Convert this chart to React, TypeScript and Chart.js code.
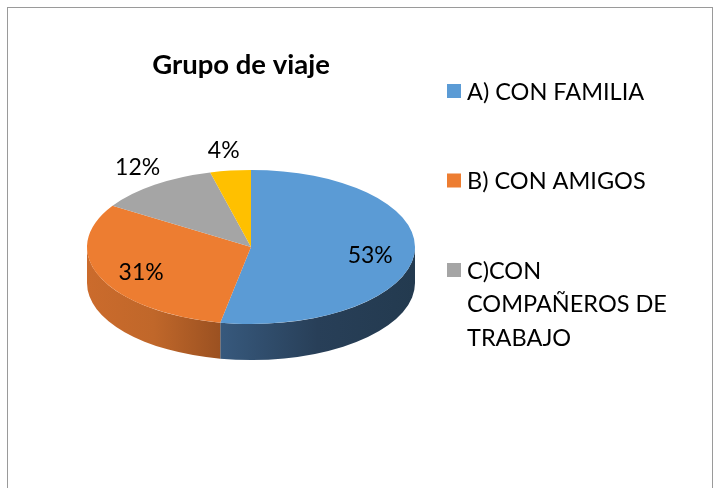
import React, { useEffect, useRef } from "react";
import { Chart, registerables } from "chart.js";

Chart.register(...registerables);

// ---- data ----
const categories = ["A) CON FAMILIA", "B) CON AMIGOS", "C)CON COMPAÑEROS DE TRABAJO", "D) OTROS"];
const values = [53, 31, 12, 4];
const legendVisible = [true, true, true, false];
const chartTitle = "Grupo de viaje";

// ---- style ----
const topColors = ["#5B9BD5", "#ED7D31", "#A5A5A5", "#FFC000"];
const sideStops: string[][] = [
  ["#37597D", "#283F58", "#233A4F"],
  ["#CB6B2C", "#C0672A", "#9B5121"],
  ["#8A8A8A", "#7A7A7A", "#5E5E5E"],
  ["#C79600", "#B38600", "#8A6700"],
];
const TILT = 0.4695;
const DEPTH_RATIO = 0.22;
const FONT = "Lato, 'Open Sans', sans-serif";

const W = 717;
const H = 488;

function wrapText(ctx: CanvasRenderingContext2D, text: string, maxW: number): string[] {
  const words = text.split(" ");
  const lines: string[] = [];
  let cur = "";
  for (const w of words) {
    const t = cur ? cur + " " + w : w;
    if (ctx.measureText(t).width > maxW && cur) {
      lines.push(cur);
      cur = w;
    } else cur = t;
  }
  if (cur) lines.push(cur);
  return lines;
}

const pie3d = {
  id: "pie3d",
  beforeDatasetsDraw(chart: any) {
    const ctx: CanvasRenderingContext2D = chart.ctx;
    const arcs: any[] = chart.getDatasetMeta(0).data;
    if (!arcs.length) return false;
    const cx = arcs[0].x;
    const cy = arcs[0].y;
    const R = arcs[0].outerRadius;
    const ry = R * TILT;
    const depth = R * DEPTH_RATIO;
    // sides
    arcs.forEach((arc, i) => {
      const s = arc.startAngle;
      const e = arc.endAngle;
      for (const base of [-2 * Math.PI, 0, 2 * Math.PI]) {
        const a = Math.max(s, base);
        const b = Math.min(e, base + Math.PI);
        if (b <= a) continue;
        ctx.save();
        ctx.beginPath();
        ctx.ellipse(cx, cy, R, ry, 0, a, b, false);
        ctx.lineTo(cx + R * Math.cos(b), cy + ry * Math.sin(b) + depth);
        ctx.ellipse(cx, cy + depth, R, ry, 0, b, a, true);
        ctx.closePath();
        const xl = cx + R * Math.cos(b);
        const xr = cx + R * Math.cos(a);
        const g = ctx.createLinearGradient(xl, 0, Math.max(xr, xl + 1), 0);
        const st = sideStops[i % sideStops.length];
        g.addColorStop(0, st[0]);
        g.addColorStop(0.5, st[1]);
        g.addColorStop(1, st[2]);
        ctx.fillStyle = g;
        ctx.fill();
        ctx.restore();
      }
    });
    // top face drawn by Chart.js arc elements, squashed
    ctx.save();
    ctx.translate(cx, cy);
    ctx.scale(1, TILT);
    ctx.translate(-cx, -cy);
    arcs.forEach((arc) => arc.draw(ctx));
    ctx.restore();
    return false;
  },
  afterDraw(chart: any) {
    const ctx: CanvasRenderingContext2D = chart.ctx;
    const arcs: any[] = chart.getDatasetMeta(0).data;
    const data: number[] = chart.data.datasets[0].data;
    const total = data.reduce((p, c) => p + c, 0);
    const cx = arcs[0].x;
    const cy = arcs[0].y;
    const R = arcs[0].outerRadius;
    const ry = R * TILT;
    ctx.save();
    ctx.font = `23px ${FONT}`;
    ctx.fillStyle = "#000";
    ctx.textAlign = "center";
    ctx.textBaseline = "alphabetic";
    arcs.forEach((arc, i) => {
      const pct = data[i] / total;
      const mid = (arc.startAngle + arc.endAngle) / 2;
      const c = Math.cos(mid);
      const s = Math.sin(mid);
      let x: number, y: number;
      if (pct > 0.2) {
        x = cx + R * 0.73 * c;
        y = cy + ry * 0.73 * s + 3;
      } else {
        x = cx + R * c + c * 22 - 4;
        y = cy + ry * s + s * 19 - 2;
      }
      ctx.fillText(`${Math.round(pct * 100)}%`, x, y + 8);
    });
    ctx.restore();

    // title
    ctx.save();
    ctx.font = `bold 27.5px ${FONT}`;
    ctx.fillStyle = "#000";
    ctx.textAlign = "center";
    ctx.fillText(chartTitle, cx - 10, 74);
    ctx.restore();

    // legend
    ctx.save();
    ctx.font = `23.5px ${FONT}`;
    ctx.textAlign = "left";
    ctx.textBaseline = "middle";
    const lx = chart.chartArea.right + 32;
    let row = 0;
    chart.data.labels.forEach((lab: string, i: number) => {
      if (!legendVisible[i]) return;
      const yc = 91 + row * 89.5;
      ctx.fillStyle = topColors[i];
      ctx.fillRect(lx, yc - 7, 14, 14);
      ctx.fillStyle = "#000";
      const lines = wrapText(ctx, lab, 210);
      lines.forEach((ln, j) => ctx.fillText(ln, lx + 20, yc + 1 + j * 33.5));
      row++;
    });
    ctx.restore();
  },
};

export default function App() {
  const ref = useRef<HTMLCanvasElement>(null);
  useEffect(() => {
    if (!ref.current) return;
    const chart = new Chart(ref.current, {
      type: "pie",
      data: {
        labels: categories,
        datasets: [
          {
            data: values,
            backgroundColor: topColors,
            borderWidth: 0,
          },
        ],
      },
      options: {
        responsive: false,
        animation: false,
        layout: { padding: { left: 87, right: 302, top: 83, bottom: 77 } },
        plugins: {
          legend: { display: false },
          tooltip: { enabled: false },
          title: { display: false },
        },
      },
      plugins: [pie3d as any],
    });
    return () => chart.destroy();
  }, []);
  return (
    <div style={{ position: "fixed", left: 0, top: 0, width: W, height: H, background: "#fff", overflow: "hidden" }}>
      <div
        style={{
          position: "absolute",
          left: 7,
          top: 7,
          width: 706,
          height: 520,
          border: "1px solid #9a9a9a",
          borderBottom: "none",
          boxSizing: "border-box",
        }}
      />
      <canvas ref={ref} width={W} height={H} style={{ position: "absolute", left: 0, top: 0 }} />
    </div>
  );
}
